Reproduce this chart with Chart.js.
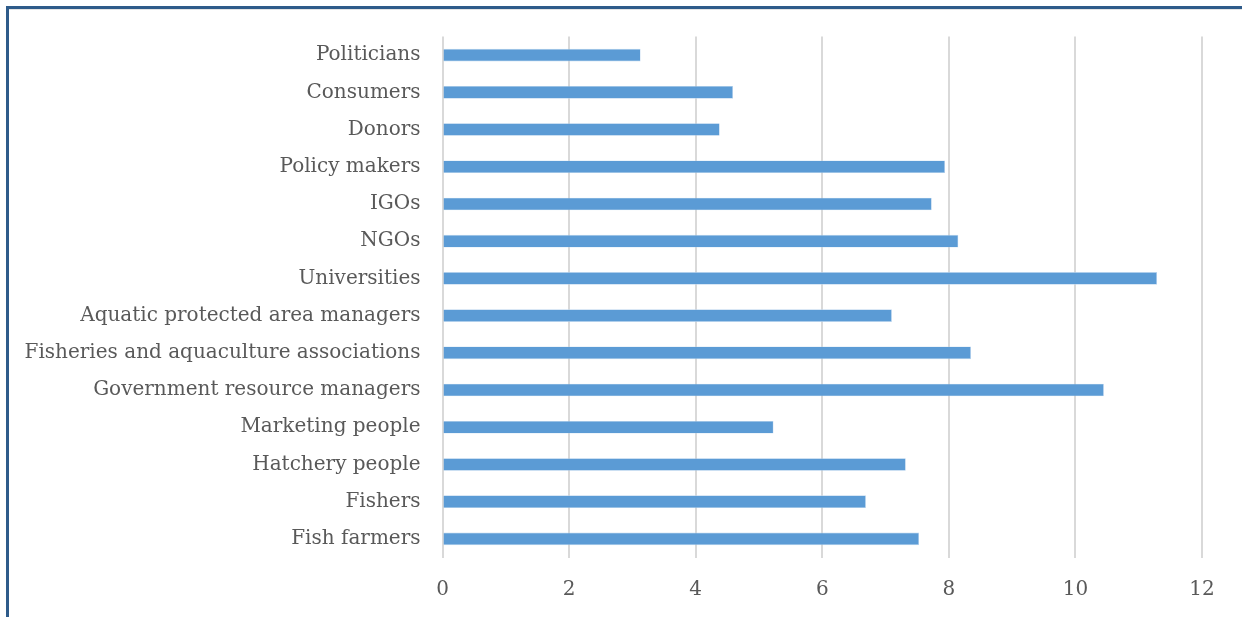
<!DOCTYPE html>
<html>
<head>
<meta charset="utf-8">
<script src="https://cdn.jsdelivr.net/npm/chart.js@4/dist/chart.umd.min.js"></script>
<style>
    html, body { margin: 0; padding: 0; background: #ffffff; overflow: hidden; }
    #wrap { position: relative; width: 1242px; height: 617px; }
    #frame {
        position: absolute; left: 6px; top: 6px; width: 1300px; height: 700px;
        border-left: 3px solid #2e5b8a; border-top: 3px solid #2e5b8a;
        box-shadow: inset 0 1px 0 #e4e4e4;
    }
    #chart { position: absolute; left: 0; top: 0; }
</style>
</head>
<body>
<div id="wrap">
    <div id="frame"></div>
    <canvas id="chart" width="1242" height="617"></canvas>
</div>
<script>
// Données
const categories = [
    'Politicians',
    'Consumers',
    'Donors',
    'Policy makers',
    'IGOs',
    'NGOs',
    'Universities',
    'Aquatic protected area managers',
    'Fisheries and aquaculture associations',
    'Government resource managers',
    'Marketing people',
    'Hatchery people',
    'Fishers',
    'Fish farmers'
];
const scores = [3.13, 4.59, 4.38, 7.94, 7.73, 8.15, 11.29, 7.10, 8.35, 10.45, 5.23, 7.32, 6.69, 7.53];
const xTicks = [0, 2, 4, 6, 8, 10, 12];

const textColor = '#595959';
const fontFamily = '"DejaVu Serif", serif';

new Chart(document.getElementById('chart').getContext('2d'), {
    type: 'bar',
    data: {
        labels: categories,
        datasets: [{
            data: scores,
            backgroundColor: '#5b9bd5',
            borderColor: '#bcd5ee',
            borderWidth: 0.6,
            categoryPercentage: 1,
            barPercentage: 0.34
        }]
    },
    options: {
        indexAxis: 'y',
        responsive: false,
        animation: false,
        layout: { padding: { left: 0, right: 40, top: 36.5, bottom: 0 } },
        scales: {
            x: {
                min: 0,
                max: 12,
                afterBuildTicks: (scale) => { scale.ticks = xTicks.map(v => ({ value: v })); },
                afterFit: (scale) => { scale.height = 59.5; },
                grid: { color: '#d9d9d9', lineWidth: 2, drawTicks: false },
                border: { display: false },
                ticks: { color: textColor, padding: 20, font: { family: fontFamily, size: 20 } }
            },
            y: {
                afterFit: (scale) => { scale.width = 442.5; },
                grid: { display: false, drawTicks: false },
                border: { display: false },
                ticks: { color: textColor, padding: 22, font: { family: fontFamily, size: 20 }, autoSkip: false }
            }
        },
        plugins: {
            legend: { display: false },
            tooltip: { enabled: false }
        }
    }
});
</script>
</body>
</html>
